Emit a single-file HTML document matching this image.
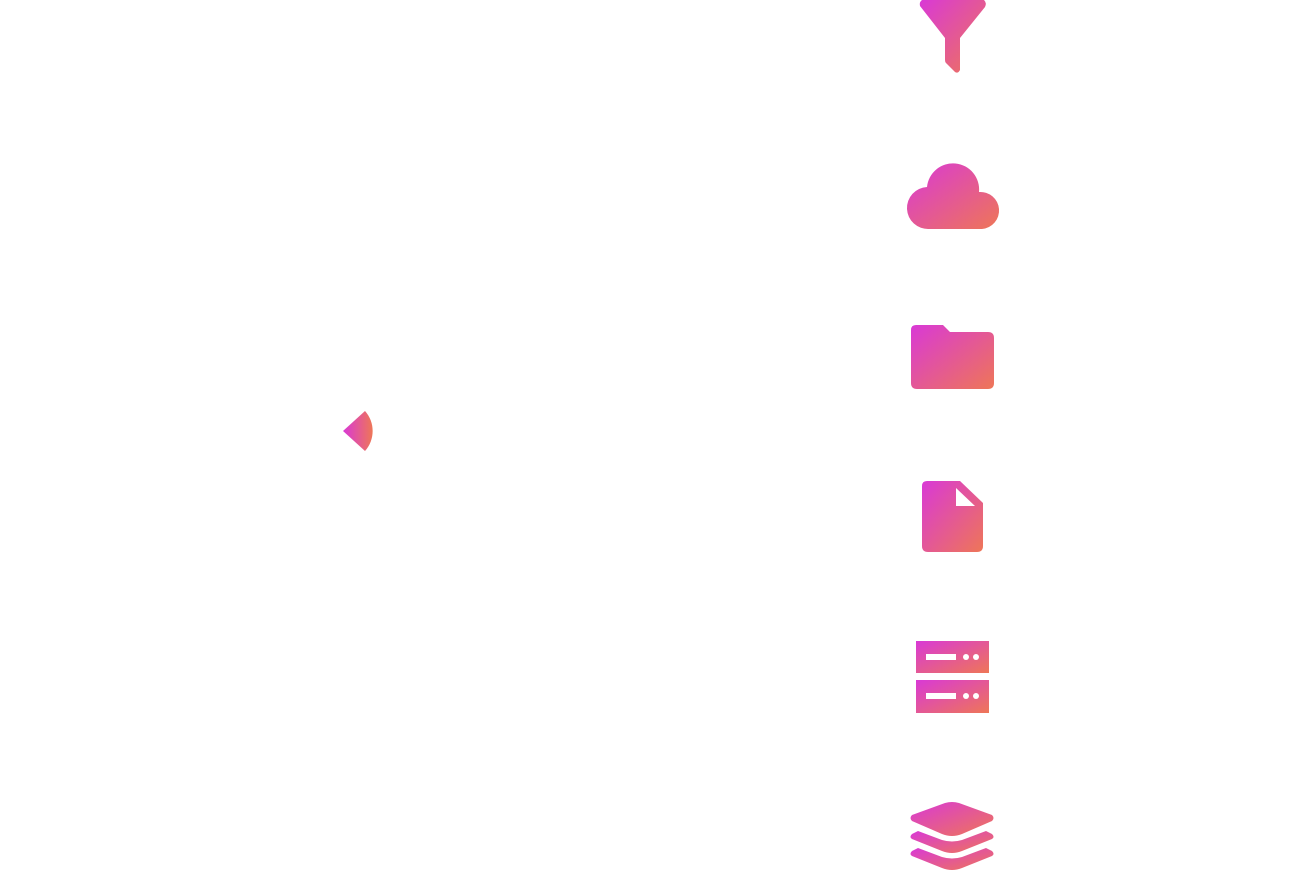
<!DOCTYPE html>
<html><head><meta charset="utf-8"><style>
html,body{margin:0;padding:0;background:#fff;width:1310px;height:881px;overflow:hidden}
</style></head><body>
<svg width="1310" height="881" viewBox="0 0 1310 881" xmlns="http://www.w3.org/2000/svg">
<defs>
<linearGradient id="g" x1="0" y1="0" x2="1" y2="1">
<stop offset="0" stop-color="#d939d6"/><stop offset="1" stop-color="#ee7657"/>
</linearGradient>
<linearGradient id="gh" x1="0" y1="0" x2="1" y2="0">
<stop offset="0" stop-color="#d939d6"/><stop offset="1" stop-color="#ee7657"/>
</linearGradient>
</defs>
<path d="M343,431 L365,411 A30,30 0 0 1 365,451 Z" fill="url(#gh)"/>
<path d="M922,0 L984,0 Q987,3 985,7 L960,38 L960,70 Q958,74 955,72 L946,63 Q945,62 945,60 L945,38 L920,6 Q919,2 922,0 Z" fill="url(#g)"/>
<path d="M927,187 A26,26 0 0 1 979,192 A14.5,14.5 0 0 1 982,229 L929,229 A19.5,19.5 0 0 1 927,187 Z" fill="url(#g)"/>
<path d="M916,325 L943,325 L950,332 L988,332 Q994,332 994,338 L994,383 Q994,389 988,389 L917,389 Q911,389 911,383 L911,330 Q911,325 916,325 Z" fill="url(#g)"/>
<path d="M927,481 L960,481 L983,503 L983,546 Q983,552 977,552 L928,552 Q922,552 922,546 L922,486 Q922,481 927,481 Z" fill="url(#g)"/>
<path d="M956,488 L956,506 L975,506 Z" fill="#fff"/>
<rect x="916" y="641" width="73" height="32" fill="url(#g)"/>
<rect x="916" y="680" width="73" height="33" fill="url(#g)"/>
<rect x="926" y="654" width="30" height="6" fill="#fff"/>
<circle cx="966" cy="657" r="3" fill="#fff"/><circle cx="976" cy="657" r="3" fill="#fff"/>
<rect x="926" y="693" width="30" height="6" fill="#fff"/>
<circle cx="966" cy="696" r="3" fill="#fff"/><circle cx="976" cy="696" r="3" fill="#fff"/>
<path d="M912,815 L945,803 Q952,801 959,803 L992,815 Q995,818 992,821 L962,834 Q952,838 942,834 L912,821 Q909,818 912,815 Z" fill="url(#g)"/>
<path d="M912,834 L918,831 L942,840 Q952,843 962,840 L986,831 L992,834 Q995,837 992,839 L962,851 Q952,855 942,851 L912,839 Q909,837 912,834 Z" fill="url(#g)"/>
<path d="M912,851 L918,848 L942,857 Q952,860 962,857 L986,848 L992,851 Q995,854 992,856 L962,868 Q952,872 942,868 L912,856 Q909,854 912,851 Z" fill="url(#g)"/>
</svg>
</body></html>
